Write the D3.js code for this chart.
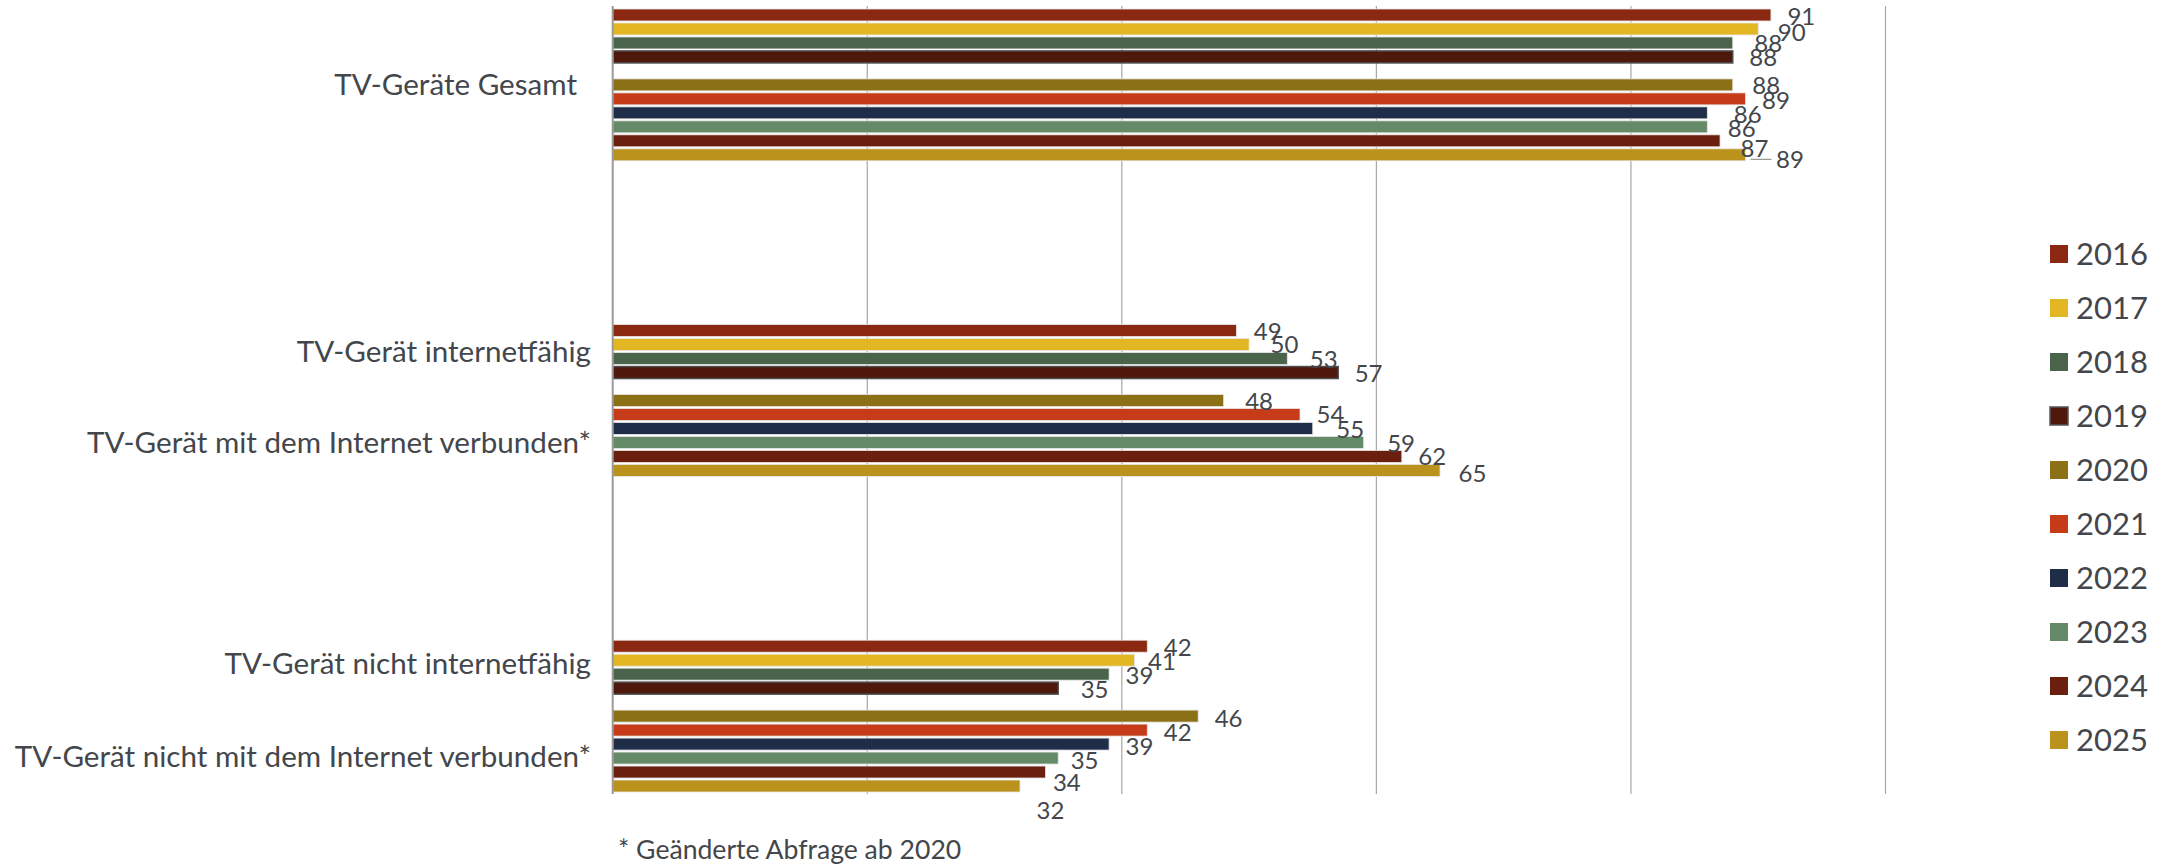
<!DOCTYPE html>
<html>
<head>
<meta charset="utf-8">
<script src="https://cdn.jsdelivr.net/npm/d3@7"></script>
<style>
  html, body { margin: 0; padding: 0; background: #ffffff; }
  svg { display: block; font-family: Lato, "Noto Sans", sans-serif; }
</style>
</head>
<body>
<svg id="chart" width="2166" height="866"></svg>
<script>
// ---------- data ----------
const years = ["2016","2017","2018","2019","2020","2021","2022","2023","2024","2025"];
const blockNames = ["Gesamt", "Internet", "NichtInternet"];
const rowLabels = [
  "TV-Geräte Gesamt",
  "TV-Gerät internetfähig",
  "TV-Gerät mit dem Internet verbunden*",
  "TV-Gerät nicht internetfähig",
  "TV-Gerät nicht mit dem Internet verbunden*"
];
// TV-Geräte Gesamt, 2016–2025
const gesamt = [91, 90, 88, 88, 88, 89, 86, 86, 87, 89];
// TV-Gerät internetfähig, 2016–2019
const internetfaehig = [49, 50, 53, 57];
// TV-Gerät mit dem Internet verbunden*, 2020–2025
const verbunden = [48, 54, 55, 59, 62, 65];
// TV-Gerät nicht internetfähig, 2016–2019
const nichtInternetfaehig = [42, 41, 39, 35];
// TV-Gerät nicht mit dem Internet verbunden*, 2020–2025
const nichtVerbunden = [46, 42, 39, 35, 34, 32];
const xTicks = [0, 20, 40, 60, 80, 100];
const footnote = "* Geänderte Abfrage ab 2020";

// ---------- styles ----------
const colors = ["#8A2812","#E3B724","#4A634B","#4E190C","#8C7015","#C63C18","#1F2D48","#658A67","#6B200F","#BB931C"];
const textColor = "#43464b";
// small manual nudges for data labels (dx, dy), keyed block-yearIndex
const labelNudge = {
  "0-0":[0,1],"0-1":[3,3],"0-2":[5,0],"0-3":[0,0],"0-4":[3,0],"0-5":[0,1],"0-6":[10,1],"0-7":[4,2],"0-8":[4,8],"0-9":[14,5],
  "1-0":[1,1],"1-1":[5,0],"1-2":[6,1],"1-3":[0,1],"1-4":[5,1],"1-5":[0,0],"1-6":[7,1],"1-7":[7,1],"1-8":[0,0],"1-9":[2,3],
  "2-0":[0,1],"2-1":[-3,1],"2-2":[0,1],"2-3":[6,1],"2-4":[0,2],"2-5":[0,2],"2-6":[0,2],"2-7":[-4,2],"2-8":[-9,10],"2-9":[0,24]
};

// ---------- build records ----------
const bars = [];
function addBars(block, vals, yearOffset) {
  vals.forEach((v, i) => {
    const yi = i + yearOffset;
    bars.push({ block, yearIndex: yi, year: years[yi], value: v, slot: yi < 4 ? yi : yi + 1 });
  });
}
addBars(0, gesamt, 0);
addBars(1, internetfaehig, 0);
addBars(1, verbunden, 4);
addBars(2, nichtInternetfaehig, 0);
addBars(2, nichtVerbunden, 4);

// ---------- scales ----------
const svg = d3.select("#chart");
const plotTop = 6, plotBottom = 794;
const x = d3.scaleLinear().domain([0, 100]).range([612.7, 1885.5]);
const yBlock = d3.scaleBand().domain(d3.range(blockNames.length)).range([9, 792]).paddingInner(0.519).paddingOuter(0);
const ySlot = d3.scaleBand().domain(d3.range(11)).range([0, yBlock.bandwidth()]).paddingInner(0.143).paddingOuter(0);
const color = d3.scaleOrdinal().domain(years).range(colors);

// ---------- gridlines ----------
svg.append("g").selectAll("line").data(xTicks.filter(t => t !== 0)).join("line")
  .attr("x1", d => x(d)).attr("x2", d => x(d))
  .attr("y1", plotTop).attr("y2", plotBottom)
  .attr("stroke", "#a6a6a6").attr("stroke-width", 1.2);

// ---------- bars ----------
const barY = d => yBlock(d.block) + ySlot(d.slot);
svg.append("g").selectAll("rect").data(bars).join("rect")
  .attr("x", x(0))
  .attr("y", d => barY(d))
  .attr("width", d => x(d.value) - x(0))
  .attr("height", ySlot.bandwidth())
  .attr("fill", d => color(d.year))
  .attr("stroke", d => d.year === "2019" ? "#4d4d4d" : "#e6e6e6")
  .attr("stroke-width", d => d.year === "2019" ? 1.5 : 0.8);

// axis line (0)
svg.append("line")
  .attr("x1", x(0)).attr("x2", x(0)).attr("y1", plotTop).attr("y2", plotBottom)
  .attr("stroke", "#9a9a9a").attr("stroke-width", 2);

// ---------- data labels ----------
svg.append("g").selectAll("text").data(bars).join("text")
  .attr("x", d => x(d.value) + 16.5 + (labelNudge[d.block + "-" + d.yearIndex] || [0,0])[0])
  .attr("y", d => barY(d) + ySlot.bandwidth() / 2 + (labelNudge[d.block + "-" + d.yearIndex] || [0,0])[1])
  .attr("dy", "0.36em")
  .attr("font-size", 24)
  .attr("fill", textColor)
  .text(d => d.value);

// leader line for Gesamt 2025
const lead = bars.find(d => d.block === 0 && d.year === "2025");
svg.append("line")
  .attr("x1", x(lead.value) + 5).attr("x2", x(lead.value) + 26)
  .attr("y1", barY(lead) + ySlot.bandwidth() / 2 + 4.5)
  .attr("y2", barY(lead) + ySlot.bandwidth() / 2 + 4.5)
  .attr("stroke", "#808080").attr("stroke-width", 1);

// ---------- category labels ----------
function slotCenter(block, s0, s1) {
  const top = yBlock(block) + ySlot(s0);
  const bottom = yBlock(block) + ySlot(s1) + ySlot.bandwidth();
  return (top + bottom) / 2;
}
const catLabels = [
  { text: rowLabels[0], y: slotCenter(0, 0, 10) - 1, dx: -14 },
  { text: rowLabels[1], y: slotCenter(1, 0, 3), dx: 0 },
  { text: rowLabels[2], y: slotCenter(1, 5, 10) + 7, dx: 0 },
  { text: rowLabels[3], y: slotCenter(2, 0, 3) - 4, dx: 0 },
  { text: rowLabels[4], y: slotCenter(2, 5, 10) + 5, dx: 0 }
];
svg.append("g").selectAll("text").data(catLabels).join("text")
  .attr("x", d => 591 + d.dx)
  .attr("y", d => d.y)
  .attr("dy", "0.36em")
  .attr("text-anchor", "end")
  .attr("font-size", 29.6)
  .attr("fill", textColor)
  .text(d => d.text);

// ---------- legend ----------
const legend = svg.append("g").selectAll("g").data(years).join("g")
  .attr("transform", (d, i) => `translate(2050, ${254 + i * 54})`);
legend.append("rect")
  .attr("x", 0).attr("y", -9).attr("width", 18).attr("height", 18)
  .attr("fill", d => color(d))
  .attr("stroke", d => d === "2019" ? "#555" : "none")
  .attr("stroke-width", 1.5);
legend.append("text")
  .attr("x", 26).attr("y", 0).attr("dy", "0.36em")
  .attr("font-size", 31)
  .attr("fill", textColor)
  .text(d => d);

// ---------- footnote ----------
svg.append("text")
  .attr("x", 618).attr("y", 849).attr("dy", "0.36em")
  .attr("font-size", 26.6)
  .attr("fill", textColor)
  .text(footnote);
</script>
</body>
</html>
